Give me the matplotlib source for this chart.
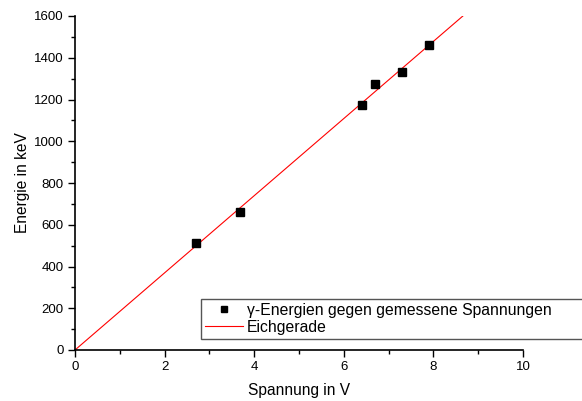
import numpy as np
import matplotlib
matplotlib.use('Agg')
import matplotlib.pyplot as plt
from matplotlib.ticker import MultipleLocator

# measured peak voltages and the known gamma energies
spannung = [2.70, 3.68, 6.41, 6.70, 7.30, 7.90]
energie = [511, 662, 1173, 1275, 1332, 1460]

# calibration line E = m * U
steigung = 184.8
achsenabschnitt = 0.0

plt.rcParams['font.family'] = ['Liberation Sans', 'DejaVu Sans']

fig = plt.figure(figsize=(5.82, 4.01), dpi=100)
ax = fig.add_axes([75 / 582, 51 / 401, 448 / 582, 334 / 401])

u_fit = np.linspace(0, (1600 - achsenabschnitt) / steigung, 50)
e_fit = steigung * u_fit + achsenabschnitt

ax.plot(spannung, energie, 's', color='black', markersize=5.5, zorder=3,
        label=u'\u03b3-Energien gegen gemessene Spannungen')
ax.plot(u_fit, e_fit, '-', color='red', linewidth=0.8, label='Eichgerade')

ax.set_xlim(0, 10)
ax.set_ylim(0, 1600)
ax.xaxis.set_major_locator(MultipleLocator(2))
ax.xaxis.set_minor_locator(MultipleLocator(1))
ax.yaxis.set_major_locator(MultipleLocator(200))
ax.yaxis.set_minor_locator(MultipleLocator(100))
ax.tick_params(which='both', direction='out', width=1.0, labelsize=9.5, color='black', pad=3)
ax.tick_params(which='major', length=5)
ax.tick_params(which='minor', length=3)

ax.spines['top'].set_visible(False)
ax.spines['right'].set_visible(False)
ax.spines['left'].set_linewidth(1.2)
ax.spines['bottom'].set_linewidth(1.2)

ax.set_xlabel('Spannung in V', fontsize=11.2, labelpad=7)
ax.set_ylabel('Energie in keV', fontsize=11.2, labelpad=3)

leg = ax.legend(loc='upper left', mode='expand',
                bbox_to_anchor=(201 / 582, 61 / 401, 395 / 582, 41 / 401),
                bbox_transform=fig.transFigure, borderaxespad=0,
                fancybox=False, framealpha=1, edgecolor='#555555',
                fontsize=11.3, markerscale=0.7, handlelength=2.4,
                labelspacing=0.12, borderpad=0.25, handletextpad=0.25)
leg.get_frame().set_linewidth(1.0)

fig.savefig('out.png', dpi=100)
